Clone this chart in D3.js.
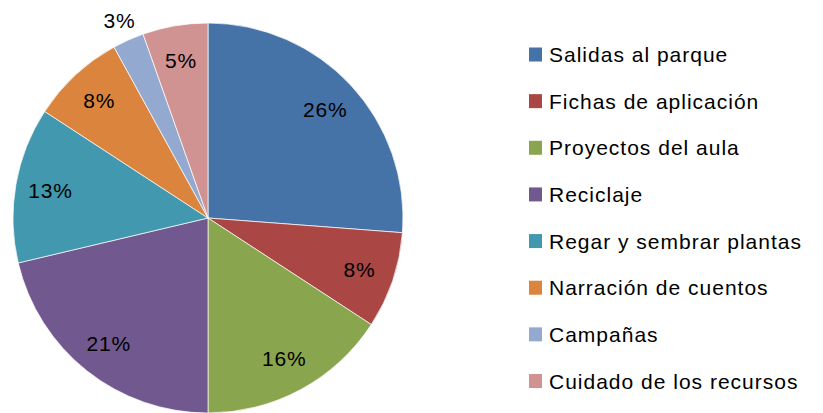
<!DOCTYPE html>
<html>
<head>
<meta charset="utf-8">
<script src="https://cdn.jsdelivr.net/npm/d3@7"></script>
<style>
	body { margin: 0; background: #fff; }
	svg { display: block; }
</style>
</head>
<body>
<svg></svg>
<script>
const svgWidth = 823;
const svgHeight = 413;

// actividades y su peso (%)
const categories = ["Salidas al parque", "Fichas de aplicación", "Proyectos del aula", "Reciclaje",
	"Regar y sembrar plantas", "Narración de cuentos", "Campañas", "Cuidado de los recursos"];
const values = [26.2, 8.0, 15.8, 21.3, 12.9, 7.8, 2.6, 5.4];
const colors = ["#4572A7", "#AA4643", "#89A54E", "#71588F", "#4198AF", "#DB843D", "#93A9CF", "#D19392"];

const cx = 208;
const cy = 218;
const radius = 195;
const fontFamily = "'Liberation Sans', Arial, sans-serif";

const svg = d3.select("svg")
				.attr("width", svgWidth)
				.attr("height", svgHeight);

const data = categories.map((c, i) => ({ name: c, value: values[i], color: colors[i] }));
const total = d3.sum(values);

const pie = d3.pie()
				.value(d => d.value)
				.sort(null);
const arc = d3.arc()
				.innerRadius(0)
				.outerRadius(radius);
const labelArc = d3.arc()
				.innerRadius(radius * 0.82)
				.outerRadius(radius * 0.82);
const outerArc = d3.arc()
				.innerRadius(radius * 1.11)
				.outerRadius(radius * 1.11);

const arcs = pie(data);
const g = svg.append("g")
				.attr("transform", `translate(${cx}, ${cy})`);

// Slices
g.selectAll("path")
	.data(arcs)
	.enter()
	.append("path")
		.attr("d", arc)
		.attr("fill", d => d.data.color)
		.attr("stroke", "#fff")
		.attr("stroke-width", 0.7);

// Percent labels
const pct = d3.format(".0f");
g.selectAll("text")
	.data(arcs)
	.enter()
	.append("text")
		.text(d => pct(d.data.value / total * 100) + "%")
		.attr("transform", d => {
			let p = (d.endAngle - d.startAngle) < 0.2 ? outerArc.centroid(d) : labelArc.centroid(d);
			return `translate(${p[0]}, ${p[1]})`;
		})
		.attr("dy", "0.35em")
		.attr("text-anchor", "middle")
		.attr("font-family", fontFamily)
		.attr("font-size", "21px")
		.attr("letter-spacing", "0.8px")
		.attr("fill", "#000");

// Legend
const legendY = d3.scalePoint()
				.domain(categories)
				.range([54.5, 381]);

const legend = svg.append("g")
				.selectAll("g")
				.data(data)
				.enter()
				.append("g")
				.attr("transform", d => `translate(529, ${legendY(d.name)})`);

legend.append("rect")
	.attr("x", 0)
	.attr("y", -7)
	.attr("width", 13)
	.attr("height", 14)
	.attr("fill", d => d.color);

legend.append("text")
	.text(d => d.name)
	.attr("x", 20)
	.attr("dy", "0.36em")
	.attr("font-family", fontFamily)
	.attr("font-size", "21px")
	.attr("letter-spacing", "1px")
	.attr("fill", "#000");
</script>
</body>
</html>
